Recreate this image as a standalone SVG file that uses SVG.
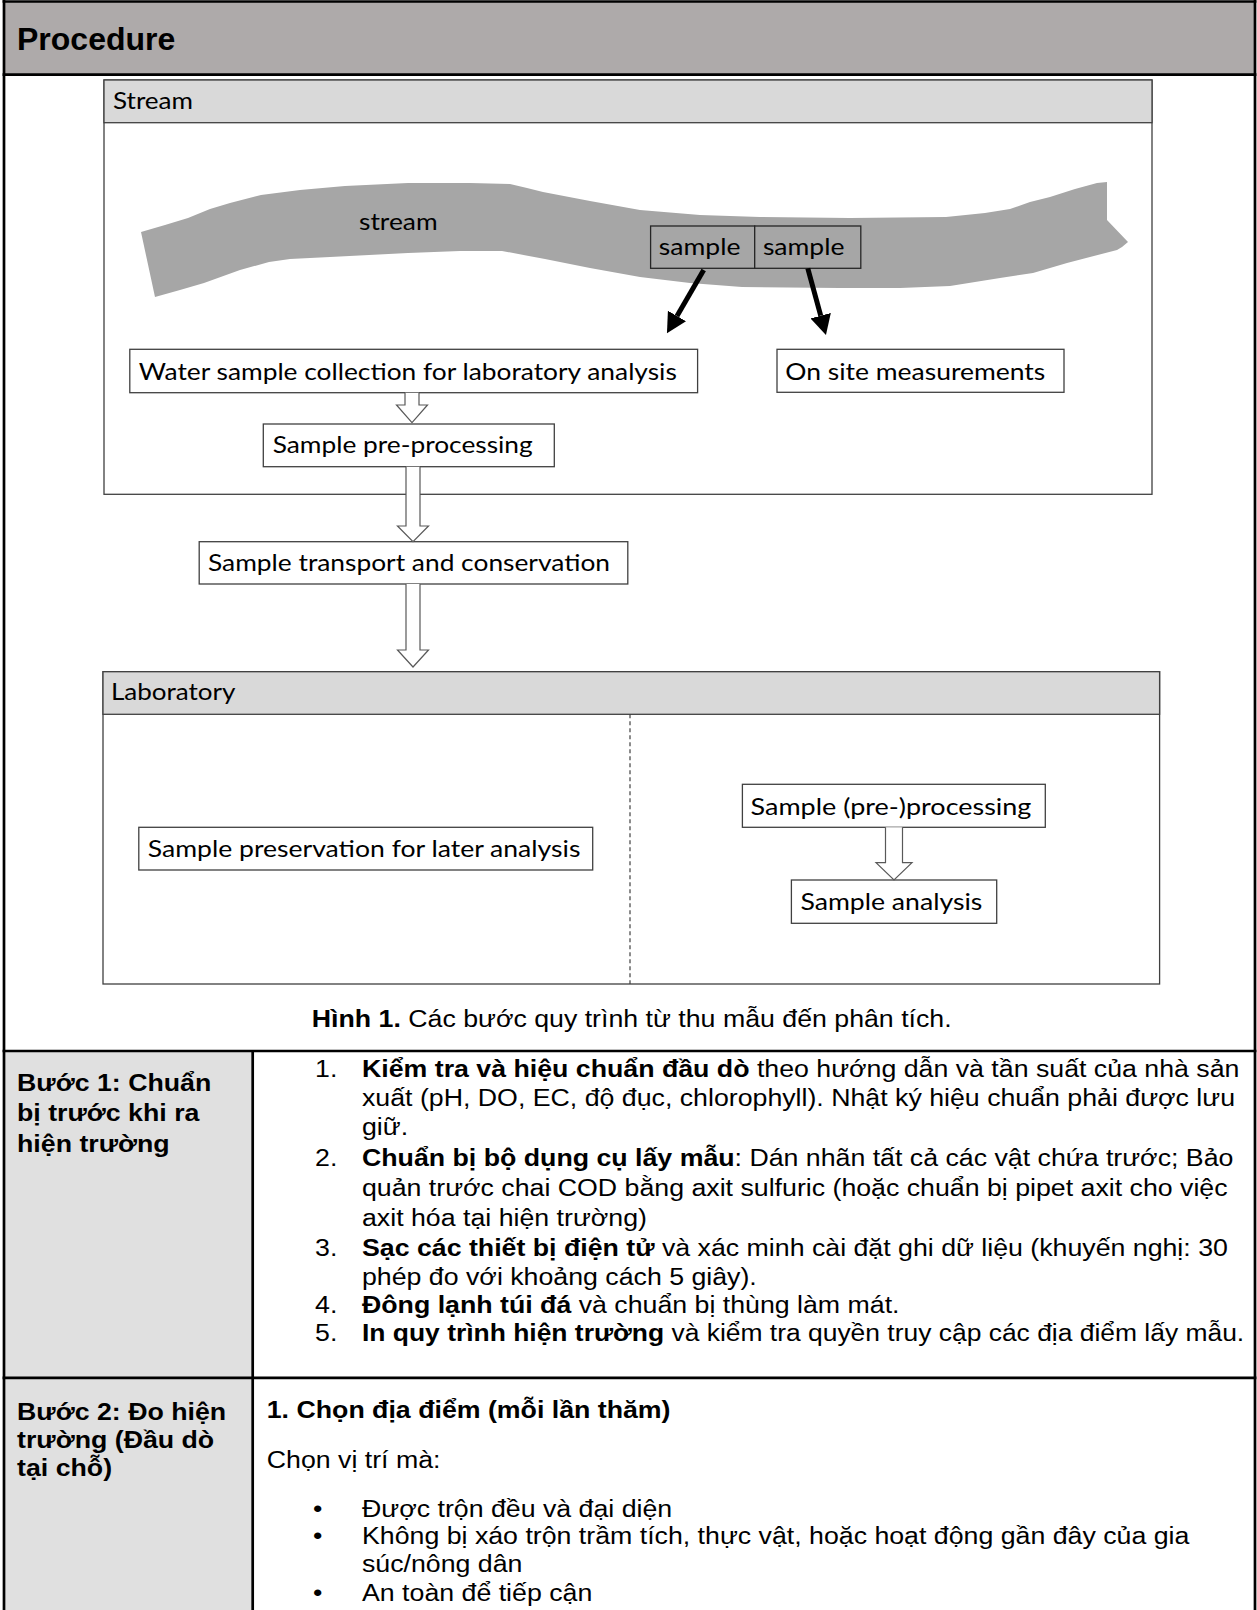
<svg xmlns="http://www.w3.org/2000/svg" width="1257" height="1610" viewBox="0 0 1257 1610">
<style>
.lbl{font-family:Lato,"Open Sans",sans-serif;font-size:24px;fill:#000}
.body{font-family:"Liberation Sans",Arial,sans-serif;font-size:24.3px;fill:#000}
.b{font-weight:bold}
.box{fill:#fff;stroke:#404040;stroke-width:1.3}
.bar{fill:#D9D9D9;stroke:#404040;stroke-width:1.3}
.frame{fill:#fff;stroke:#404040;stroke-width:1.3}
.sbox{fill:#A6A6A6;stroke:#262626;stroke-width:1.3}
.hollow{fill:#fff;stroke:#595959;stroke-width:1.2}
.thick{stroke:#000;stroke-width:2.7;fill:none}
.blk{stroke:#000;stroke-width:5;fill:none}
</style>
<defs>
<marker id="head" markerUnits="userSpaceOnUse" markerWidth="20" markerHeight="21" viewBox="0 0 20 21" refX="0" refY="10.5" orient="auto">
<path d="M0,0 L20,10.5 L0,21 Z" fill="#000"/>
</marker>
</defs>
<rect width="1257" height="1610" fill="#fff"/>

<!-- page frame, header, table -->
<g id="page">
<rect x="4" y="1.5" width="1251" height="73.2" fill="#AEAAAA"/>
<rect x="4" y="1051" width="248.7" height="560" fill="#E0E0E0"/>
<line class="thick" x1="4" y1="0" x2="4" y2="1610"/>
<line class="thick" x1="1255" y1="0" x2="1255" y2="1610"/>
<line class="thick" x1="2.6" y1="1.5" x2="1256.4" y2="1.5"/>
<line class="thick" x1="2.6" y1="74.7" x2="1256.4" y2="74.7"/>
<line class="thick" x1="2.6" y1="1051" x2="1256.4" y2="1051"/>
<line class="thick" x1="2.6" y1="1377.8" x2="1256.4" y2="1377.8"/>
<line class="thick" x1="252.7" y1="1051" x2="252.7" y2="1610"/>
<text x="17" y="50" font-family="Liberation Sans, Arial, sans-serif" font-size="32" font-weight="bold">Procedure</text>
</g>

<!-- Stream container -->
<g id="stream-container">
<rect class="frame" x="104" y="80" width="1048" height="414.3"/>
<rect class="bar" x="104" y="80" width="1048" height="42.7"/>
<text class="lbl" x="113" y="109.3" textLength="80" lengthAdjust="spacingAndGlyphs">Stream</text>
</g>

<g id="stream-shape">
<path fill="#A6A6A6" d="M141,232 L165,225 L188,218 L210,209 L230,203 L261,195 L300,190 L345,186 L408,183 L470,183 L510,184 L527,188 L543,192 L590,201 L640,210 L700,215 L760,217 L850,218 L946,217 L985,213 L1010,209 L1030,202 L1050,197 L1075,189 L1097,183 L1107,182 L1107,220 L1128,242 L1122,247 L1117,250 L1090,257 L1067,263 L1033,273 L1000,278 L950,286 L900,288 L840,288 L742,287 L690,283 L640,277 L590,268 L545,259 L502,251 L460,251 L408,253 L330,257 L290,259 L269,262 L240,270 L204,283 L180,290 L155,297 Z"/>
<text class="lbl" x="359" y="230" textLength="78.6" lengthAdjust="spacingAndGlyphs">stream</text>
</g>

<g id="sample-1">
<rect class="sbox" x="650.6" y="226" width="104.1" height="42.3"/>
<text class="lbl" x="658.8" y="255" textLength="81.6" lengthAdjust="spacingAndGlyphs">sample</text>
</g>
<g id="sample-2">
<rect class="sbox" x="754.7" y="226" width="106.1" height="42.3"/>
<text class="lbl" x="762.9" y="255" textLength="81.6" lengthAdjust="spacingAndGlyphs">sample</text>
</g>

<g id="water-sample-collection">
<rect class="box" x="129.8" y="349.3" width="567.8" height="43.4"/>
<text class="lbl" x="138.8" y="380" textLength="538" lengthAdjust="spacingAndGlyphs">Water sample collection for laboratory analysis</text>
</g>
<g id="on-site-measurements">
<rect class="box" x="777" y="349.3" width="287" height="43"/>
<text class="lbl" x="785.3" y="379.5" textLength="260" lengthAdjust="spacingAndGlyphs">On site measurements</text>
</g>
<g id="sample-pre-processing">
<rect class="box" x="263.3" y="424" width="291" height="42.7"/>
<text class="lbl" x="272.7" y="453.3" textLength="260" lengthAdjust="spacingAndGlyphs">Sample pre-processing</text>
</g>
<g id="sample-transport">
<rect class="box" x="199.2" y="541.7" width="428.6" height="42.3"/>
<text class="lbl" x="208" y="570.7" textLength="402" lengthAdjust="spacingAndGlyphs">Sample transport and conservation</text>
</g>

<!-- Laboratory container -->
<g id="laboratory-container">
<rect class="frame" x="103" y="671.7" width="1056.6" height="312.3"/>
<rect class="bar" x="103" y="671.7" width="1056.6" height="42.6"/>
<text class="lbl" x="111" y="700" textLength="124.5" lengthAdjust="spacingAndGlyphs">Laboratory</text>
<line x1="630" y1="714.3" x2="630" y2="984" stroke="#404040" stroke-width="1.2" stroke-dasharray="4,3"/>
</g>
<g id="sample-preservation">
<rect class="box" x="138.8" y="827.3" width="453.9" height="42.7"/>
<text class="lbl" x="147.8" y="856.7" textLength="432.6" lengthAdjust="spacingAndGlyphs">Sample preservation for later analysis</text>
</g>
<g id="sample-lab-processing">
<rect class="box" x="742.4" y="784.3" width="302.9" height="43"/>
<text class="lbl" x="750.6" y="815" textLength="280.8" lengthAdjust="spacingAndGlyphs">Sample (pre-)processing</text>
</g>
<g id="sample-analysis">
<rect class="box" x="791.4" y="880" width="205.3" height="43.3"/>
<text class="lbl" x="800.4" y="910" textLength="182" lengthAdjust="spacingAndGlyphs">Sample analysis</text>
</g>

<!-- connectors -->
<g id="connectors">
<line class="blk" x1="703.7" y1="270" x2="677" y2="316" marker-end="url(#head)"/>
<line class="blk" x1="807.8" y1="268.3" x2="820.7" y2="315.7" marker-end="url(#head)"/>
<path class="hollow" d="M405,392.7 L405,405 L396.5,405 L412,422.7 L427.5,405 L419,405 L419,392.7"/>
<path class="hollow" d="M406,466.7 L406,526 L397.5,526 L413,541.7 L428.5,526 L420,526 L420,466.7"/>
<path class="hollow" d="M406,584 L406,650 L397.5,650 L413,667 L428.5,650 L420,650 L420,584"/>
<path class="hollow" d="M885.5,827.3 L885.5,862.7 L876,862.7 L894,880 L912,862.7 L902.5,862.7 L902.5,827.3"/>
</g>

<!-- caption and table text -->
<g id="table-text" class="body" transform="scale(1.1,1)">
<text x="283.4" y="1027"><tspan class="b">Hình 1.</tspan> Các bước quy trình từ thu mẫu đến phân tích.</text>

<text class="b" x="15.5" y="1091">Bước 1: Chuẩn</text>
<text class="b" x="15.5" y="1121.5">bị trước khi ra</text>
<text class="b" x="15.5" y="1152">hiện trường</text>

<text x="286.4" y="1076.7">1.</text>
<text x="329.1" y="1076.7"><tspan class="b">Kiểm tra và hiệu chuẩn đầu dò</tspan> theo hướng dẫn và tần suất của nhà sản</text>
<text x="329.1" y="1106">xuất (pH, DO, EC, độ đục, chlorophyll). Nhật ký hiệu chuẩn phải được lưu</text>
<text x="329.1" y="1135">giữ.</text>
<text x="286.4" y="1166">2.</text>
<text x="329.1" y="1166"><tspan class="b">Chuẩn bị bộ dụng cụ lấy mẫu</tspan>: Dán nhãn tất cả các vật chứa trước; Bảo</text>
<text x="329.1" y="1196">quản trước chai COD bằng axit sulfuric (hoặc chuẩn bị pipet axit cho việc</text>
<text x="329.1" y="1226">axit hóa tại hiện trường)</text>
<text x="286.4" y="1256">3.</text>
<text x="329.1" y="1256"><tspan class="b">Sạc các thiết bị điện tử</tspan> và xác minh cài đặt ghi dữ liệu (khuyến nghị: 30</text>
<text x="329.1" y="1285">phép đo với khoảng cách 5 giây).</text>
<text x="286.4" y="1313">4.</text>
<text x="329.1" y="1313"><tspan class="b">Đông lạnh túi đá</tspan> và chuẩn bị thùng làm mát.</text>
<text x="286.4" y="1341">5.</text>
<text x="329.1" y="1341" textLength="802" lengthAdjust="spacingAndGlyphs"><tspan class="b">In quy trình hiện trường</tspan> và kiểm tra quyền truy cập các địa điểm lấy mẫu.</text>

<text class="b" x="15.5" y="1420">Bước 2: Đo hiện</text>
<text class="b" x="15.5" y="1448">trường (Đầu dò</text>
<text class="b" x="15.5" y="1476">tại chỗ)</text>

<text class="b" x="242.5" y="1418">1. Chọn địa điểm (mỗi lần thăm)</text>
<text x="242.5" y="1468">Chọn vị trí mà:</text>
<text x="284.5" y="1516.7">•</text>
<text x="329.1" y="1516.7">Được trộn đều và đại diện</text>
<text x="284.5" y="1544">•</text>
<text x="329.1" y="1544">Không bị xáo trộn trầm tích, thực vật, hoặc hoạt động gần đây của gia</text>
<text x="329.1" y="1572">súc/nông dân</text>
<text x="284.5" y="1601">•</text>
<text x="329.1" y="1601">An toàn để tiếp cận</text>
</g>
</svg>
